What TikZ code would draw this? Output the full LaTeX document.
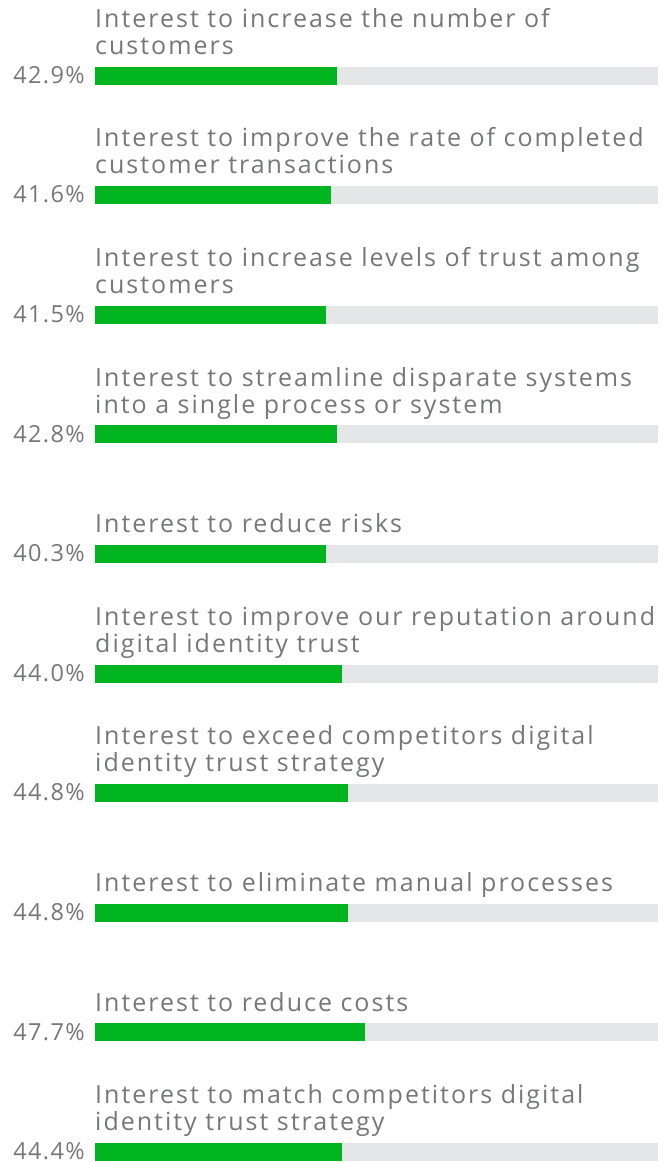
\documentclass[tikz,border=0pt]{standalone}
\usepackage{fontspec}
\setmainfont{Open Sans}[LetterSpace=8,Ligatures={NoCommon}]
\newfontfamily\pctfont{Open Sans}[LetterSpace=6]
\definecolor{bargreen}{HTML}{00B51F}
\definecolor{bargray}{HTML}{E5E6E8}
\definecolor{txtgray}{HTML}{76777A}

\begin{document}
\begin{tikzpicture}[x=1pt,y=-1pt,
    track/.style={fill=bargray,inner sep=0,outer sep=0,minimum height=18pt,minimum width=563pt,anchor=north west},
    share/.style={fill=bargreen,inner sep=0,outer sep=0,minimum height=18pt,anchor=north west},
    lab/.style={text=txtgray,inner sep=0,align=left,anchor=south west,font=\fontsize{25}{27}\selectfont},
    pct/.style={text=txtgray,inner sep=0,anchor=base east,font=\pctfont\fontsize{23.5}{25}\selectfont}]
  \useasboundingbox (0,0) rectangle (661,1162);
  \foreach \i/\val/\xend/\txt in {
      0/42.9/337/{Interest to increase the number of\\customers},
      1/41.6/331/{Interest to improve the rate of completed\\customer transactions},
      2/41.5/326/{Interest to increase levels of trust among\\customers},
      3/42.8/337/{Interest to streamline disparate systems\\into a single process or system},
      4/40.3/326/{Interest to reduce risks},
      5/44.0/342/{Interest to improve our reputation around\\digital identity trust},
      6/44.8/348/{Interest to exceed competitors digital\\identity trust strategy},
      7/44.8/348/{Interest to eliminate manual processes},
      8/47.7/365/{Interest to reduce costs},
      9/44.4/342/{Interest to match competitors digital\\identity trust strategy}} {
    \pgfmathsetmacro{\ytop}{66.5+\i*119.6}
    \pgfmathsetmacro{\barlen}{\xend-95}
    \node[track] (track\i) at (95,\ytop) {};
    \node[share,minimum width=\barlen pt] (share\i) at (95,\ytop) {};
    \node[lab] (lab\i) at (95,\ytop-4) {\txt\strut};
    \node[pct] (pct\i) at (85,\ytop+16.8) {\val\%};
  }
\end{tikzpicture}
\end{document}
